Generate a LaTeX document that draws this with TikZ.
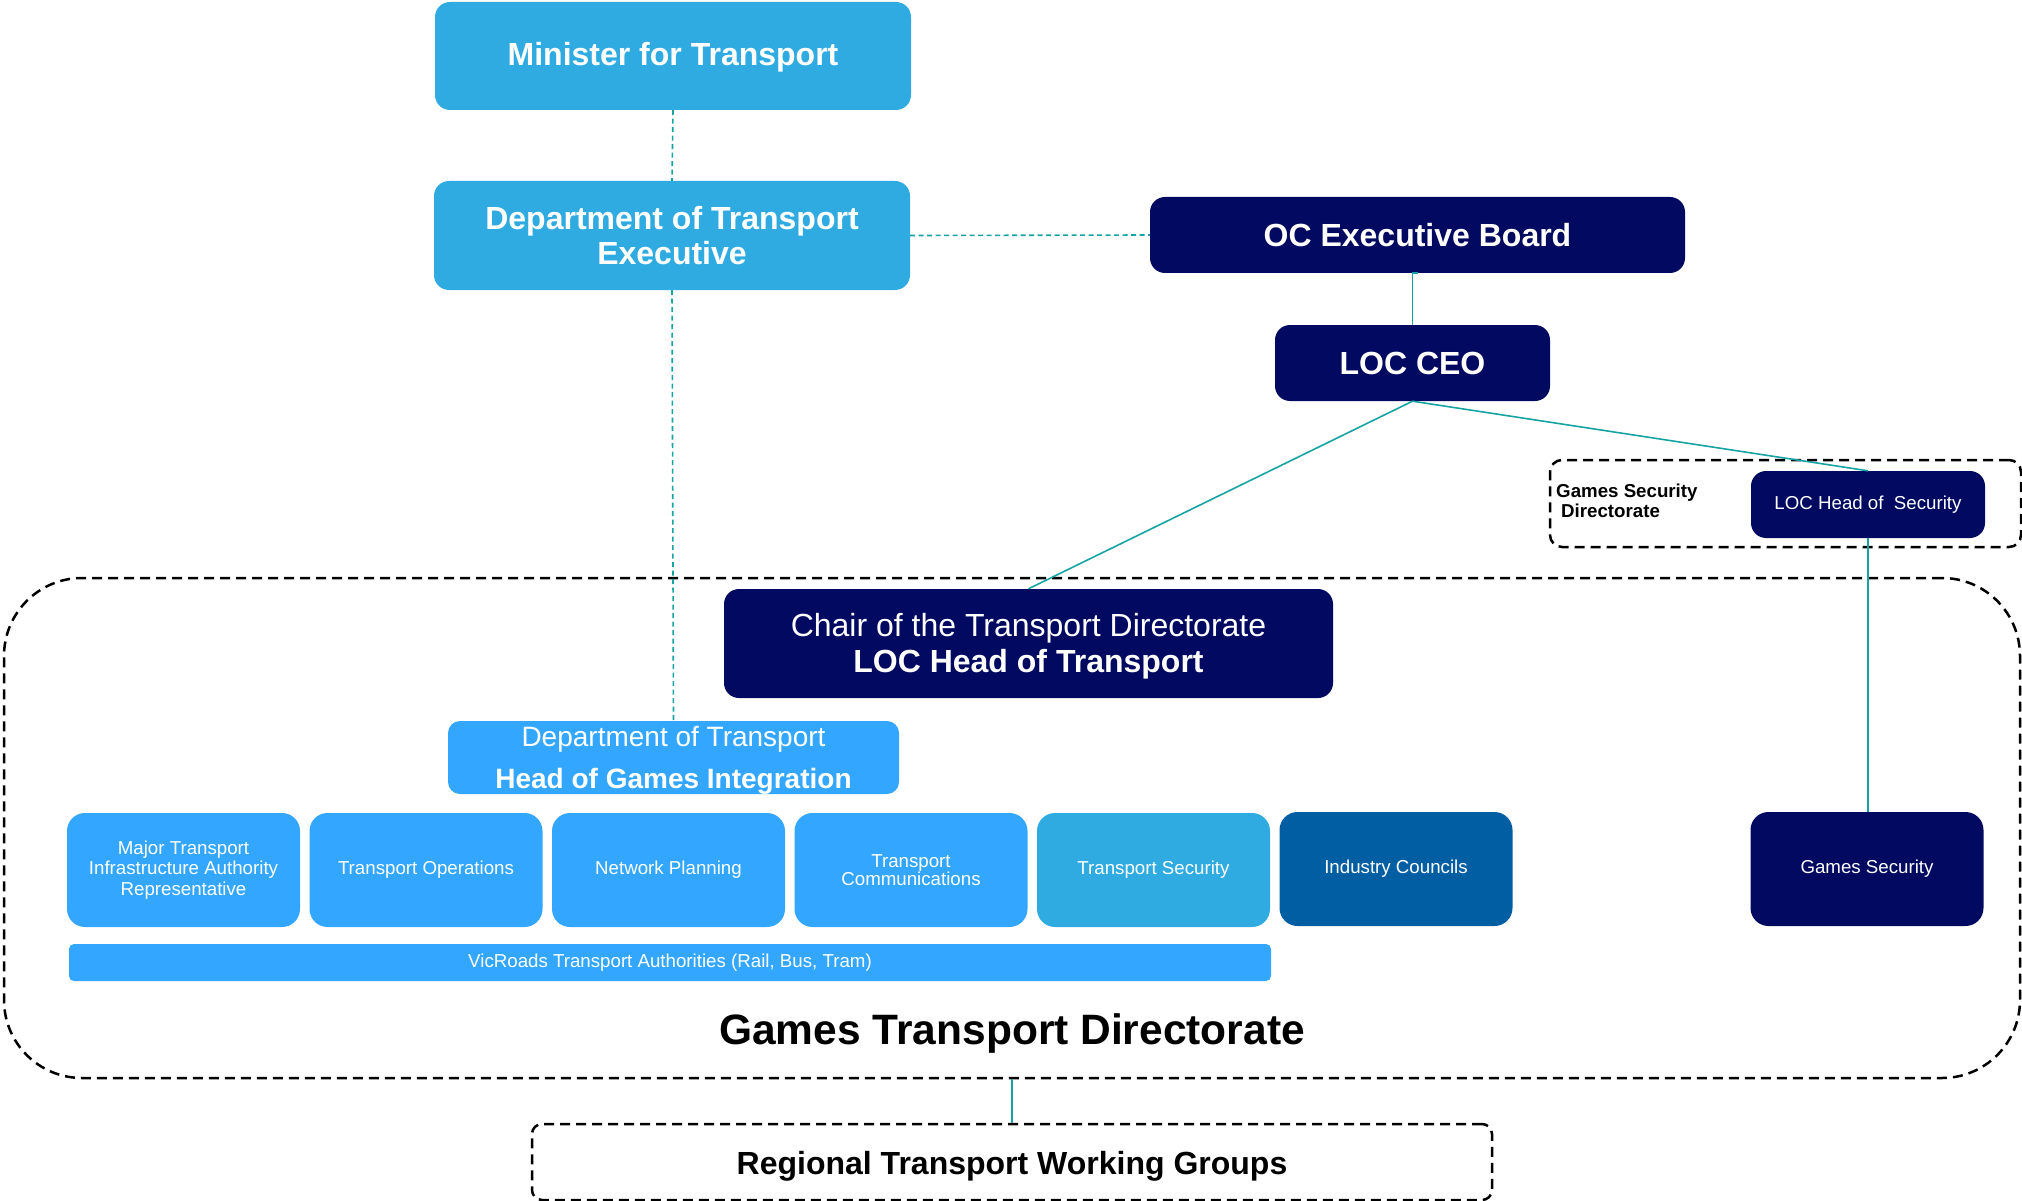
\documentclass[tikz,border=0pt]{standalone}
\usepackage{fontspec}
\setmainfont{Liberation Sans}
\definecolor{skyA}{HTML}{2FABE2}
\definecolor{skyB}{HTML}{33A6FF}
\definecolor{midblue}{HTML}{025EA3}
\definecolor{navyC}{HTML}{010A60}
\definecolor{lineteal}{HTML}{17A3A3}
\tikzset{
  orgbox/.style={rounded corners=15pt, inner sep=0pt, align=center, text=white},
  unitbox/.style={orgbox, rounded corners=18pt, minimum width=233pt, minimum height=114pt, fill=skyB},
  grpbox/.style={draw=black, line width=2.5pt, dash pattern=on 10pt off 6pt, inner sep=0pt},
  solidlink/.style={draw=lineteal, line width=1.6pt},
  dashlink/.style={draw=lineteal, line width=1.6pt, dash pattern=on 5pt off 3.5pt},
}
\newcommand{\fs}[2]{\fontsize{#1}{#2}\selectfont}
\newcommand{\dropby}[2]{\raisebox{-#1}[\height][\depth]{#2}}
\begin{document}
\begin{tikzpicture}[x=1pt,y=-1pt]
\useasboundingbox (0,0) rectangle (2022,1201);
% group boxes
\node[grpbox, rounded corners=78pt, minimum width=2016pt, minimum height=500pt] (big) at (1012,828) {};
\node[grpbox, rounded corners=12pt, minimum width=471pt, minimum height=87pt] (gsd) at (1785.5,503.5) {};
\node[grpbox, rounded corners=10pt, minimum width=960pt, minimum height=76pt, font=\fs{32}{36}\bfseries] (reg) at (1012,1162) {\dropby{4pt}{Regional Transport Working Groups}};
% top nodes
\node[orgbox, fill=skyA, minimum width=476pt, minimum height=108pt, font=\fs{32}{36}\bfseries] (min) at (673,56) {\dropby{1.5pt}{Minister for Transport}};
\node[orgbox, fill=skyA, minimum width=476pt, minimum height=109pt, font=\fs{32}{35}\bfseries] (dex) at (672,235.5) {Department of Transport\\Executive};
\node[orgbox, fill=navyC, minimum width=535pt, minimum height=76pt, font=\fs{32}{36}\bfseries] (oc) at (1417.5,235) {OC Executive Board};
\node[orgbox, fill=navyC, minimum width=275pt, minimum height=76pt, font=\fs{32}{36}\bfseries] (ceo) at (1412.5,363) {LOC CEO};
\node[orgbox, fill=navyC, minimum width=234pt, minimum height=67pt, font=\fs{18.7}{21}] (lhs) at (1868,504.5) {LOC Head of\ \ Security};
\node[anchor=north west, inner sep=0pt, align=left, font=\fs{18.7}{19.5}\bfseries] (gsdlabel) at (1556,484) {Games Security\\\hspace{5pt}Directorate};
\node[orgbox, fill=navyC, minimum width=609pt, minimum height=109pt, font=\fs{32}{36}] (chair) at (1028.5,643.5) {\dropby{3pt}{Chair of the Transport Directorate}\\\bfseries\dropby{3pt}{LOC Head of Transport}};
\node[orgbox, fill=skyB, rounded corners=12pt, minimum width=451pt, minimum height=73pt, font=\fs{28}{42}] (doth) at (673.5,757.5) {\dropby{3pt}{Department of Transport}\\\bfseries\dropby{3pt}{Head of Games Integration}};
% unit row
\node[unitbox, font=\fs{18.7}{20.7}] (u1) at (183.5,870) {Major Transport\\Infrastructure Authority\\Representative};
\node[unitbox, font=\fs{18.7}{20.7}] (u2) at (426,870) {Transport Operations};
\node[unitbox, font=\fs{18.7}{20.7}] (u3) at (668.5,870) {Network Planning};
\node[unitbox, font=\fs{18.7}{18.5}] (u4) at (911,870) {Transport\\Communications};
\node[unitbox, fill=skyA, font=\fs{18.7}{20.7}] (u5) at (1153.5,870) {Transport Security};
\node[unitbox, fill=midblue, font=\fs{18.7}{20.7}] (u6) at (1396,869) {Industry Councils};
\node[unitbox, fill=navyC, font=\fs{18.7}{20.7}] (gsec) at (1867,869) {Games Security};
\node[orgbox, fill=skyB, rounded corners=5pt, minimum width=1202pt, minimum height=37pt, font=\fs{18.7}{20.7}] (vic) at (670,962.5) {VicRoads Transport Authorities (Rail, Bus, Tram)};
\node[inner sep=0pt, font=\fs{42.5}{46}\bfseries] (gtd) at (1012,1034) {Games Transport Directorate};
% connectors
\draw[dashlink] (min.south) -- (dex.north);
\draw[dashlink] (dex.south) -- (doth.north);
\draw[dashlink] (dex.east) -- (oc.west);
\draw[solidlink] (oc.south) -- (ceo.south |- oc.south) -- (ceo.north);
\draw[solidlink] (ceo.south) -- (chair.north);
\draw[solidlink] (ceo.south) -- (lhs.north);
\draw[solidlink] (lhs.south) -- (lhs.south |- gsec.north);
\draw[solidlink] (big.south) -- (reg.north);
\end{tikzpicture}
\end{document}
